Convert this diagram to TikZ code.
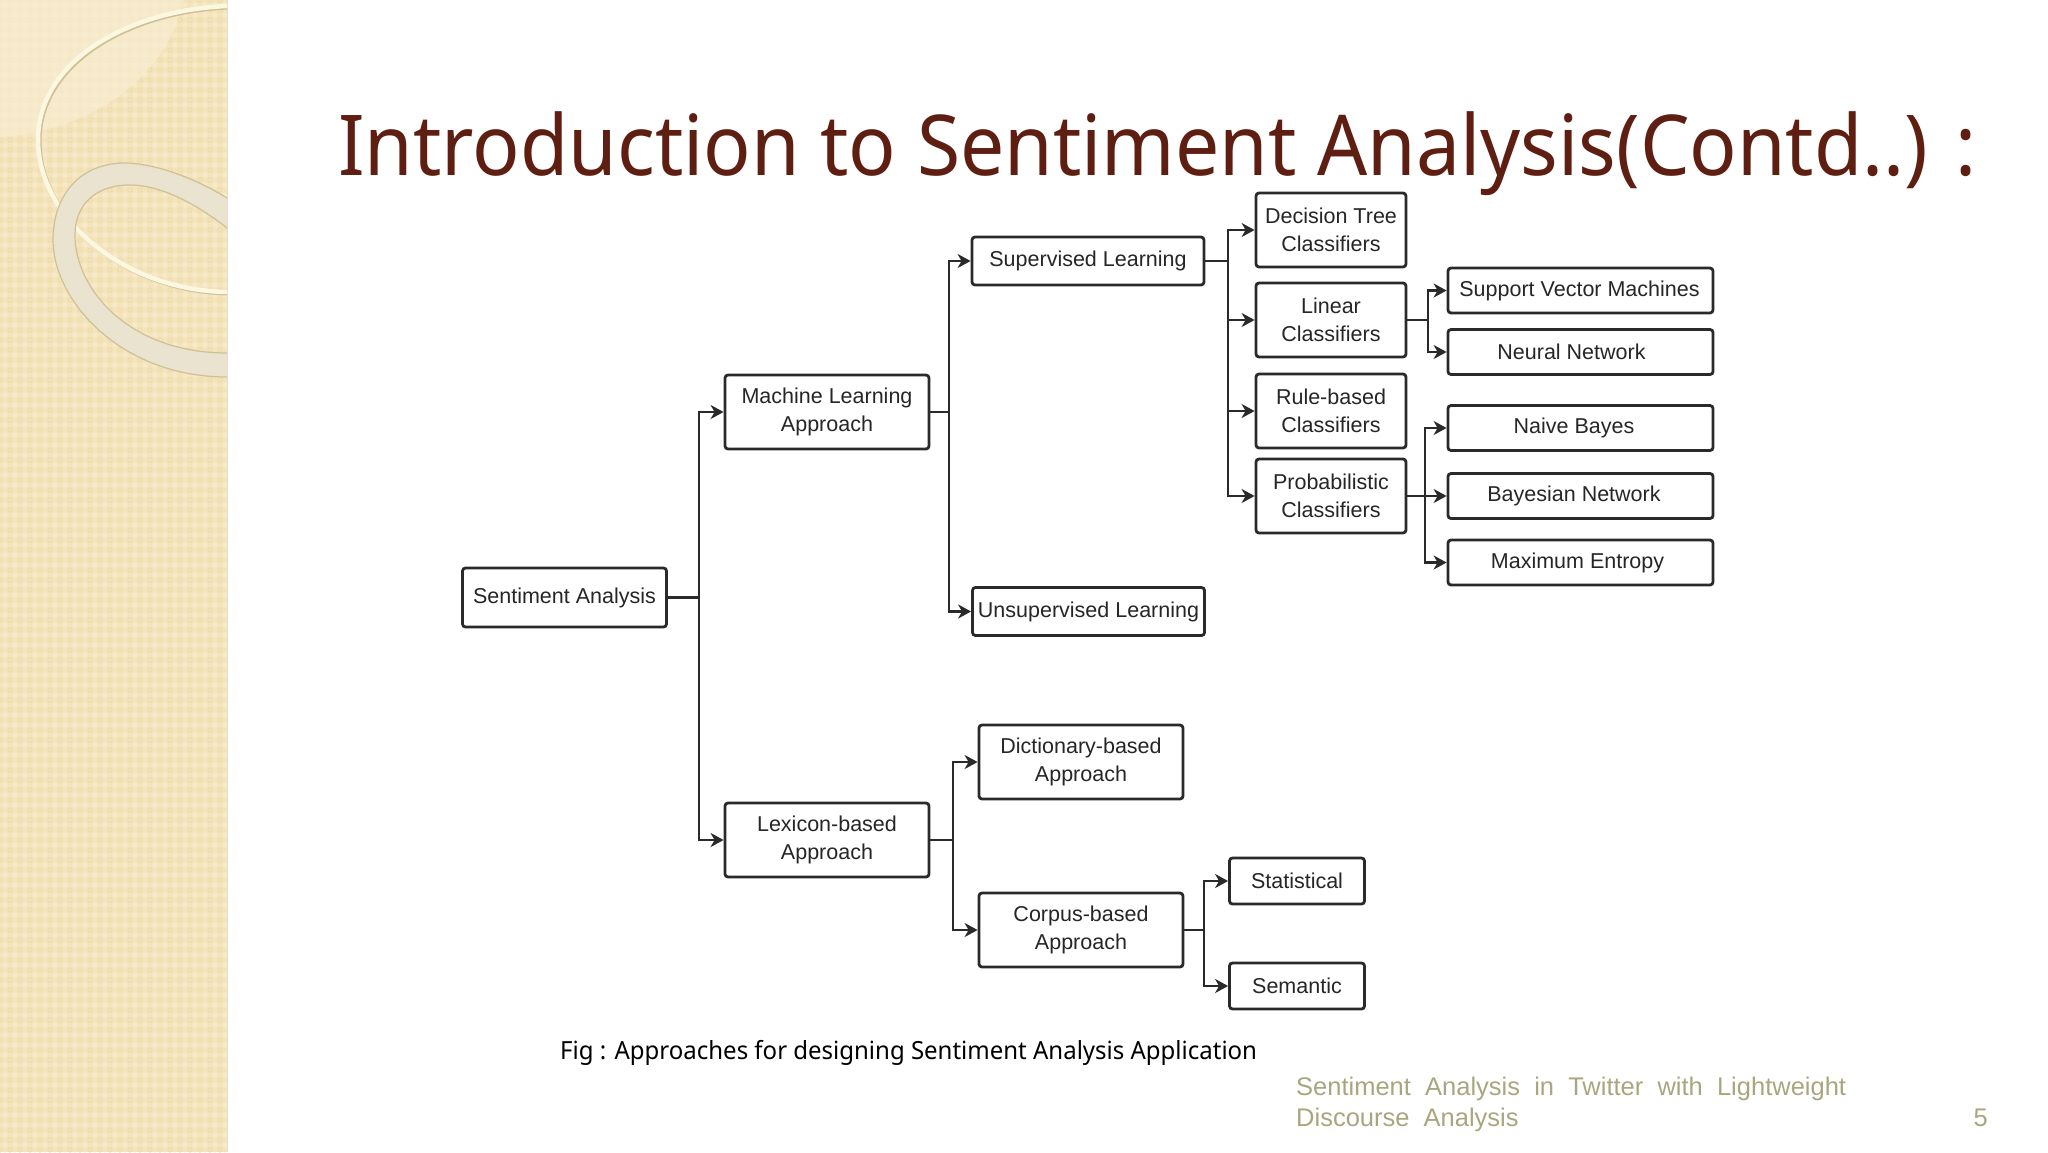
\documentclass[tikz,border=0pt]{standalone}
\usepackage{fontspec}
\setmainfont{Liberation Sans}
\newfontfamily\titlefont{Noto Sans}
\usetikzlibrary{arrows.meta}
\definecolor{paneltan}{HTML}{F4E4BC}
\definecolor{panelpale}{HTML}{F7EDD2}
\definecolor{paneldot}{HTML}{EDD9A9}
\definecolor{panelcheck}{HTML}{F6EACA}
\definecolor{panelring}{HTML}{E9E3CF}
\definecolor{paneledge}{HTML}{CFC096}
\definecolor{panelline}{HTML}{FCF7E0}
\definecolor{titlebrown}{HTML}{5E1E12}
\definecolor{footolive}{HTML}{A9A67F}
\definecolor{boxline}{HTML}{2A2A2A}
\tikzset{
	flowbox/.style={draw=boxline, line width=2.8pt, rounded corners=3pt, fill=white, align=center,
		inner sep=0pt, text=black!85, font=\fontsize{21.5}{28}\selectfont},
	widebox/.style={flowbox, minimum width=204pt, minimum height=74pt},
	classbox/.style={flowbox, minimum width=150pt, minimum height=74pt},
	learnbox/.style={flowbox, minimum width=232pt, minimum height=48pt},
	algobox/.style={flowbox, minimum width=265pt, minimum height=45pt},
	leafbox/.style={flowbox, minimum width=135pt, minimum height=46pt},
	link/.style={draw=boxline, line width=2.8pt},
	linkto/.style={link, -{Stealth[length=13pt,width=14pt,inset=4pt]}}
}
\begin{document}
\begin{tikzpicture}[x=1pt,y=-1pt]
\useasboundingbox (0,0) rectangle (2048,1152);
% side panel
\fill [paneltan] (0,0) rectangle (227,1152);
\begin{scope}
	\clip (0,0) rectangle (227,1152);
	\foreach \row in {0,...,115}
		\foreach \col in {0,...,22} {
			\fill [panelcheck] (\col*10+5,\row*10+5) circle (2.6);
			\draw [paneldot, line width=.8pt] (\col*10,\row*10) circle (2.2);
		}
	\fill [panelpale, opacity=.7] (0,0) -- (183,0) .. controls (170,70) and (100,130) .. (0,137) -- cycle;
	% thin ring
	\draw [paneledge, line width=4pt, shift={(1.5,1.5)}] (227,6) .. controls (130,10) and (38,60) .. (38,140)
		.. controls (38,215) and (120,290) .. (227,292);
	\draw [panelline, line width=4.5pt] (227,6) .. controls (130,10) and (38,60) .. (38,140)
		.. controls (38,215) and (120,290) .. (227,292);
	% wide ring
	\draw [draw=paneledge, line width=1.2pt, fill=panelring, even odd rule]
		(240,208) -- (227,198) .. controls (190,175) and (150,163) .. (125,163) .. controls (80,163) and (53,195) .. (53,240)
		.. controls (53,300) and (120,377) .. (227,377) -- (240,377) -- cycle
		(240,238) -- (227,228) .. controls (195,203) and (160,185) .. (130,185) .. controls (95,185) and (75,205) .. (75,235)
		.. controls (75,290) and (130,353) .. (227,353) -- (240,353) -- cycle;
\end{scope}
\fill [paneledge!50] (226.5,0) rectangle (228,1152);
% title
\node [anchor=base west, inner sep=0pt, text=titlebrown] (title) at (338,175)
	{\titlefont\fontsize{84}{84}\selectfont\scalebox{.9366}[1]{Introduction to Sentiment Analysis(Contd..) :}};
% boxes
\node [widebox] (sa) at (564.5,597.5) [minimum height=59pt] {Sentiment Analysis};
\node [widebox] (ml) at (827,412) {Machine Learning\\Approach};
\node [widebox] (lex) at (827,840) {Lexicon-based\\Approach};
\node [learnbox] (sup) at (1088,261) {Supervised Learning};
\node [learnbox] (unsup) at (1088.5,611.5) {Unsupervised Learning};
\node [classbox] (tree) at (1331,230) {Decision Tree\\Classifiers};
\node [classbox] (linear) at (1331,320) {Linear\\Classifiers};
\node [classbox] (rule) at (1331,411) {Rule-based\\Classifiers};
\node [classbox] (prob) at (1331,496) {Probabilistic\\Classifiers};
\node [algobox] (svm) at (1580.5,290.5) {Support Vector Machines\hspace*{2pt}};
\node [algobox] (neural) at (1580.5,352) {Neural Network\hspace*{18pt}};
\node [algobox] (naive) at (1580.5,428) {Naive Bayes\hspace*{13pt}};
\node [algobox] (bayes) at (1580.5,496) {Bayesian Network\hspace*{13pt}};
\node [algobox] (entropy) at (1580.5,562.5) {Maximum Entropy\hspace*{6pt}};
\node [widebox] (dict) at (1081,762) {Dictionary-based\\Approach};
\node [widebox] (corpus) at (1081,930) {Corpus-based\\Approach};
\node [leafbox] (stat) at (1297,881) {Statistical};
\node [leafbox] (sem) at (1297,986) {Semantic};
% joints
\coordinate (saJoint) at (699,597.5);
\coordinate (mlJoint) at (949,412);
\coordinate (lexJoint) at (953,840);
\coordinate (supJoint) at (1228,261);
\coordinate (linearJoint) at (1428,320);
\coordinate (probJoint) at (1425,496);
\coordinate (corpusJoint) at (1204,930);
% links
\draw [link] (sa.east) -- (saJoint);
\draw [link] (ml.east) -- (mlJoint);
\draw [link] (lex.east) -- (lexJoint);
\draw [link] (sup.east) -- (supJoint);
\draw [link] (linear.east) -- (linearJoint);
\draw [link] (corpus.east) -- (corpusJoint);
\draw [linkto] (saJoint) |- (ml.west);
\draw [linkto] (saJoint) |- (lex.west);
\draw [linkto] (mlJoint) |- (sup.west);
\draw [linkto] (mlJoint) |- (unsup.west);
\draw [linkto] (lexJoint) |- (dict.west);
\draw [linkto] (lexJoint) |- (corpus.west);
\draw [linkto] (supJoint) |- (tree.west);
\draw [linkto] (supJoint) |- (linear.west);
\draw [linkto] (supJoint) |- (rule.west);
\draw [linkto] (supJoint) |- (prob.west);
\draw [linkto] (linearJoint) |- (svm.west);
\draw [linkto] (linearJoint) |- (neural.west);
\draw [linkto] (prob.east) -- (bayes.west);
\draw [linkto] (probJoint) |- (naive.west);
\draw [linkto] (probJoint) |- (entropy.west);
\draw [linkto] (corpusJoint) |- (stat.west);
\draw [linkto] (corpusJoint) |- (sem.west);
% caption and footer
\node [anchor=base west, inner sep=0pt] (caption) at (560,1059)
	{\titlefont\fontsize{25}{25}\selectfont\scalebox{.96}[1]{Fig : Approaches for designing Sentiment Analysis Application}};
\node [anchor=base west, inner sep=0pt, align=left, text=footolive, font=\fontsize{25.5}{31}\selectfont] (foot) at (1296,1126)
	{Sentiment\ \ Analysis\ \ in\ \ Twitter\ \ with\ \ Lightweight\\Discourse\ \ Analysis};
\node [anchor=base east, inner sep=0pt, text=footolive, font=\fontsize{25.5}{31}\selectfont] (page) at (1988,1126) {5};
\end{tikzpicture}
\end{document}
